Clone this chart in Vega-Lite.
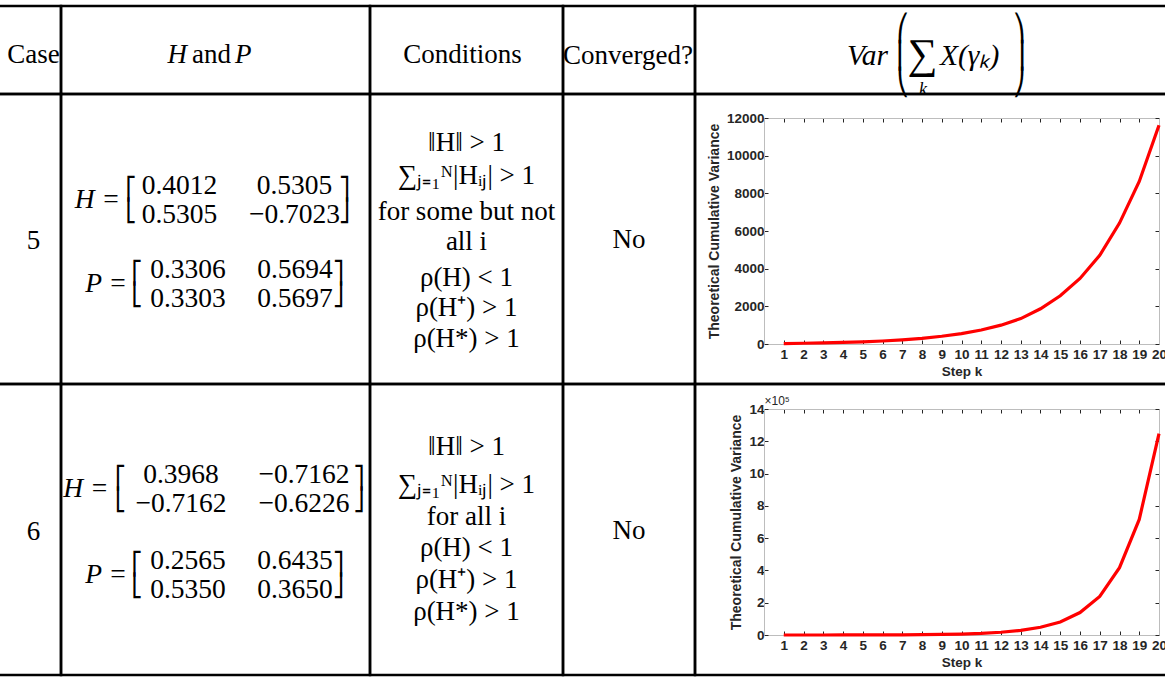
{
  "$schema": "https://vega.github.io/schema/vega-lite/v6.json",
  "background": "white",
  "padding": {"left": -4, "top": 4, "right": 0, "bottom": 0},
  "columns": 5,
  "align": "each",
  "bounds": "flush",
  "spacing": 0,
  "config": {
    "view": {"stroke": "black", "strokeWidth": 2.5},
    "concat": {"spacing": 0},
    "text": {"color": "black"},
    "axis": {
      "grid": false,
      "labelFont": "Liberation Sans", "labelFontWeight": "bold", "labelFontSize": 13.5, "labelColor": "#262626",
      "titleFont": "Liberation Sans", "titleFontWeight": "bold", "titleFontSize": 13.5, "titleColor": "#262626",
      "domainColor": "#bdbdbd", "domainWidth": 1,
      "tickColor": "#262626", "tickWidth": 1, "tickSize": -4,
      "labelFlush": false, "labelOverlap": false
    }
  },
  "datasets": {
    "cases": [
      {"case": "5", "conv": "No"},
      {"case": "6", "conv": "No"}
    ],
    "hp5": [
      {"part": "H", "label": "H =", "c1": "0.4012\n0.5305", "c2": "0.5305\n−0.7023"},
      {"part": "P", "label": "P =", "c1": "0.3306\n0.3303", "c2": "0.5694\n0.5697"}
    ],
    "hp6": [
      {"part": "H", "label": "H =", "c1": "0.3968\n−0.7162", "c2": "−0.7162\n−0.6226"},
      {"part": "P", "label": "P =", "c1": "0.2565\n0.5350", "c2": "0.6435\n0.3650"}
    ],
    "cond5": [
      {"m1": "‖H‖ > 1\n∑ⱼ₌₁ᴺ|Hᵢⱼ| > 1", "w": "for some but not\nall i", "m2": "ρ(H) < 1\nρ(H⁺) > 1\nρ(H*) > 1"}
    ],
    "cond6": [
      {"m1": "‖H‖ > 1\n∑ⱼ₌₁ᴺ|Hᵢⱼ| > 1", "w": "for all i", "m2": "ρ(H) < 1\nρ(H⁺) > 1\nρ(H*) > 1"}
    ],
    "var5": [
      {"k": 1, "v": 20}, {"k": 2, "v": 40}, {"k": 3, "v": 60}, {"k": 4, "v": 85},
      {"k": 5, "v": 115}, {"k": 6, "v": 160}, {"k": 7, "v": 220}, {"k": 8, "v": 300},
      {"k": 9, "v": 410}, {"k": 10, "v": 555}, {"k": 11, "v": 745}, {"k": 12, "v": 1000},
      {"k": 13, "v": 1350}, {"k": 14, "v": 1870}, {"k": 15, "v": 2560}, {"k": 16, "v": 3480},
      {"k": 17, "v": 4710}, {"k": 18, "v": 6420}, {"k": 19, "v": 8630}, {"k": 20, "v": 11620}
    ],
    "var6": [
      {"k": 1, "v": 40}, {"k": 2, "v": 80}, {"k": 3, "v": 150}, {"k": 4, "v": 250},
      {"k": 5, "v": 400}, {"k": 6, "v": 700}, {"k": 7, "v": 1200}, {"k": 8, "v": 2000},
      {"k": 9, "v": 3500}, {"k": 10, "v": 6000}, {"k": 11, "v": 10000}, {"k": 12, "v": 17000},
      {"k": 13, "v": 29000}, {"k": 14, "v": 48000}, {"k": 15, "v": 81000}, {"k": 16, "v": 139000},
      {"k": 17, "v": 239000}, {"k": 18, "v": 417000}, {"k": 19, "v": 716000}, {"k": 20, "v": 1248000}
    ]
  },
  "concat": [
    {"width": 63, "height": 88, "data": {"values": [{}]},
     "encoding": {"y": {"datum": "c", "type": "nominal", "axis": null}},
     "mark": {"type": "text", "text": "Case", "font": "Liberation Serif", "fontSize": 27, "baseline": "alphabetic", "dx": 4, "dy": 13}},
    {"width": 309, "height": 88, "data": {"values": [{}]},
     "encoding": {"y": {"datum": "c", "type": "nominal", "axis": null}},
     "layer": [
       {"mark": {"type": "text", "text": "H", "font": "Liberation Serif", "fontSize": 27, "fontStyle": "italic", "align": "right", "baseline": "alphabetic", "dx": -28.5, "dy": 13}},
       {"mark": {"type": "text", "text": "and", "font": "Liberation Serif", "fontSize": 27, "baseline": "alphabetic", "dx": -4, "dy": 13}},
       {"mark": {"type": "text", "text": "P", "font": "Liberation Serif", "fontSize": 27, "fontStyle": "italic", "align": "left", "baseline": "alphabetic", "dx": 19.5, "dy": 13}}
     ]},
    {"width": 193, "height": 88, "data": {"values": [{}]},
     "encoding": {"y": {"datum": "c", "type": "nominal", "axis": null}},
     "mark": {"type": "text", "text": "Conditions", "font": "Liberation Serif", "fontSize": 27, "baseline": "alphabetic", "dx": -4, "dy": 13}},
    {"width": 132, "height": 88, "data": {"values": [{}]},
     "encoding": {"y": {"datum": "c", "type": "nominal", "axis": null}},
     "mark": {"type": "text", "text": "Converged?", "font": "Liberation Serif", "fontSize": 27, "baseline": "alphabetic", "dx": -1, "dy": 14}},
    {"width": 472, "height": 88, "data": {"values": [{}]},
     "encoding": {"y": {"datum": "c", "type": "nominal", "axis": null}},
     "layer": [
       {"mark": {"type": "text", "text": "Var", "font": "Liberation Serif", "fontSize": 29.5, "fontStyle": "italic", "align": "right", "baseline": "alphabetic", "dx": -43, "dy": 15}},
       {"mark": {"type": "text", "text": ["⎛", "⎜", "⎝"], "font": "DejaVu Sans", "fontSize": 26, "lineHeight": 27, "dx": -28, "dy": -21}},
       {"mark": {"type": "text", "text": "∑", "font": "Liberation Serif", "fontSize": 42, "dx": -8.5, "dy": 5}},
       {"mark": {"type": "text", "text": "k", "font": "Liberation Serif", "fontSize": 18, "fontStyle": "italic", "dx": -8, "dy": 40}},
       {"mark": {"type": "text", "text": "X(γₖ)", "font": "Liberation Serif", "fontSize": 29.5, "fontStyle": "italic", "align": "left", "baseline": "alphabetic", "dx": 9, "dy": 15}},
       {"mark": {"type": "text", "text": ["⎞", "⎟", "⎠"], "font": "DejaVu Sans", "fontSize": 26, "lineHeight": 27, "dx": 88, "dy": -21}}
     ]},

    {"width": 63, "height": 290, "data": {"name": "cases"},
     "transform": [{"filter": "datum.case === '5'"}],
     "encoding": {"y": {"field": "case", "type": "nominal", "axis": null}, "text": {"field": "case", "type": "nominal"}},
     "mark": {"type": "text", "font": "Liberation Serif", "fontSize": 27, "baseline": "alphabetic", "dx": 4, "dy": 10}},
    {"width": 309, "height": 290, "data": {"name": "hp5"},
     "encoding": {"y": {"field": "part", "type": "nominal", "scale": {"type": "point", "domain": ["H", "P"], "range": [106, 190], "padding": 0}, "axis": null}},
     "layer": [
       {"transform": [{"filter": "datum.part === 'H'"}], "mark": {"type": "text", "font": "Liberation Serif", "fontSize": 27.5, "fontStyle": "italic", "align": "right", "dx": -95.5}, "encoding": {"text": {"field": "label", "type": "nominal"}}},
       {"transform": [{"filter": "datum.part === 'H'"}], "mark": {"type": "text", "text": ["⎡", "⎣"], "font": "DejaVu Sans", "fontSize": 22, "lineHeight": 22, "dx": -84.5, "dy": -11}},
       {"transform": [{"filter": "datum.part === 'H'"}], "mark": {"type": "text", "font": "Liberation Serif", "fontSize": 27.5, "lineBreak": "\n", "lineHeight": 29, "dx": -36, "dy": -14.5}, "encoding": {"text": {"field": "c1", "type": "nominal"}}},
       {"transform": [{"filter": "datum.part === 'H'"}], "mark": {"type": "text", "font": "Liberation Serif", "fontSize": 27.5, "lineBreak": "\n", "lineHeight": 29, "dx": 79, "dy": -14.5}, "encoding": {"text": {"field": "c2", "type": "nominal"}}},
       {"transform": [{"filter": "datum.part === 'H'"}], "mark": {"type": "text", "text": ["⎤", "⎦"], "font": "DejaVu Sans", "fontSize": 22, "lineHeight": 22, "dx": 129, "dy": -11}},
       {"transform": [{"filter": "datum.part === 'P'"}], "mark": {"type": "text", "font": "Liberation Serif", "fontSize": 27.5, "fontStyle": "italic", "align": "right", "dx": -88.5}, "encoding": {"text": {"field": "label", "type": "nominal"}}},
       {"transform": [{"filter": "datum.part === 'P'"}], "mark": {"type": "text", "text": ["⎡", "⎣"], "font": "DejaVu Sans", "fontSize": 22, "lineHeight": 22, "dx": -78.5, "dy": -11}},
       {"transform": [{"filter": "datum.part === 'P'"}], "mark": {"type": "text", "font": "Liberation Serif", "fontSize": 27.5, "lineBreak": "\n", "lineHeight": 29, "dx": -27.5, "dy": -14.5}, "encoding": {"text": {"field": "c1", "type": "nominal"}}},
       {"transform": [{"filter": "datum.part === 'P'"}], "mark": {"type": "text", "font": "Liberation Serif", "fontSize": 27.5, "lineBreak": "\n", "lineHeight": 29, "dx": 79.5, "dy": -14.5}, "encoding": {"text": {"field": "c2", "type": "nominal"}}},
       {"transform": [{"filter": "datum.part === 'P'"}], "mark": {"type": "text", "text": ["⎤", "⎦"], "font": "DejaVu Sans", "fontSize": 22, "lineHeight": 22, "dx": 123, "dy": -11}}
     ]},
    {"width": 193, "height": 290, "data": {"name": "cond5"},
     "encoding": {"y": {"datum": "c", "type": "nominal", "axis": null}},
     "layer": [
       {"mark": {"type": "text", "font": "Liberation Serif", "fontSize": 27, "lineBreak": "\n", "lineHeight": 33, "dy": -96}, "encoding": {"text": {"field": "m1", "type": "nominal"}}},
       {"mark": {"type": "text", "font": "Liberation Serif", "fontSize": 27, "lineBreak": "\n", "lineHeight": 30, "dy": -27}, "encoding": {"text": {"field": "w", "type": "nominal"}}},
       {"mark": {"type": "text", "font": "Liberation Serif", "fontSize": 27, "lineBreak": "\n", "lineHeight": 30.5, "dy": 38.5}, "encoding": {"text": {"field": "m2", "type": "nominal"}}}
     ]},
    {"width": 132, "height": 290, "data": {"name": "cases"},
     "transform": [{"filter": "datum.case === '5'"}],
     "encoding": {"y": {"field": "case", "type": "nominal", "axis": null}, "text": {"field": "conv", "type": "nominal"}},
     "mark": {"type": "text", "font": "Liberation Serif", "fontSize": 27, "baseline": "alphabetic", "dy": 9}},
    {"width": 472, "height": 290, "data": {"name": "var5"},
     "layer": [
       {"mark": {"type": "line", "color": "#ff0000", "strokeWidth": 3.2},
        "encoding": {
          "x": {"field": "k", "type": "quantitative",
                "scale": {"domain": [0, 20], "range": [69, 464], "nice": false, "zero": false},
                "axis": {"orient": "bottom", "offset": -40, "values": [1,2,3,4,5,6,7,8,9,10,11,12,13,14,15,16,17,18,19,20], "title": "Step k", "labelPadding": 7, "titlePadding": 4}},
          "y": {"field": "v", "type": "quantitative",
                "scale": {"domain": [0, 12000], "range": [250, 24], "nice": false, "zero": false},
                "axis": {"orient": "left", "offset": -69, "values": [0,2000,4000,6000,8000,10000,12000], "format": "d", "title": "Theoretical Cumulative Variance", "titleFontSize": 14, "labelPadding": 4, "titlePadding": 5}}
        }},
       {"mark": {"type": "line", "opacity": 0},
        "encoding": {
          "x": {"field": "k", "type": "quantitative", "axis": {"orient": "top", "offset": -24, "values": [1,2,3,4,5,6,7,8,9,10,11,12,13,14,15,16,17,18,19,20], "labels": false, "title": null}},
          "y": {"field": "v", "type": "quantitative", "axis": {"orient": "right", "offset": -8, "values": [0,2000,4000,6000,8000,10000,12000], "labels": false, "title": null}}
        }}
     ],
     "resolve": {"axis": {"x": "independent", "y": "independent"}}},

    {"width": 63, "height": 291, "data": {"name": "cases"},
     "transform": [{"filter": "datum.case === '6'"}],
     "encoding": {"y": {"field": "case", "type": "nominal", "axis": null}, "text": {"field": "case", "type": "nominal"}},
     "mark": {"type": "text", "font": "Liberation Serif", "fontSize": 27, "baseline": "alphabetic", "dx": 4, "dy": 10}},
    {"width": 309, "height": 291, "data": {"name": "hp6"},
     "encoding": {"y": {"field": "part", "type": "nominal", "scale": {"type": "point", "domain": ["H", "P"], "range": [105, 191], "padding": 0}, "axis": null}},
     "layer": [
       {"transform": [{"filter": "datum.part === 'H'"}], "mark": {"type": "text", "font": "Liberation Serif", "fontSize": 27.5, "fontStyle": "italic", "align": "right", "dx": -107}, "encoding": {"text": {"field": "label", "type": "nominal"}}},
       {"transform": [{"filter": "datum.part === 'H'"}], "mark": {"type": "text", "text": ["⎡", "⎣"], "font": "DejaVu Sans", "fontSize": 22, "lineHeight": 22, "dx": -95, "dy": -11}},
       {"transform": [{"filter": "datum.part === 'H'"}], "mark": {"type": "text", "font": "Liberation Serif", "fontSize": 27.5, "lineBreak": "\n", "lineHeight": 29, "dx": -34.5, "dy": -14.5}, "encoding": {"text": {"field": "c1", "type": "nominal"}}},
       {"transform": [{"filter": "datum.part === 'H'"}], "mark": {"type": "text", "font": "Liberation Serif", "fontSize": 27.5, "lineBreak": "\n", "lineHeight": 29, "dx": 88.5, "dy": -14.5}, "encoding": {"text": {"field": "c2", "type": "nominal"}}},
       {"transform": [{"filter": "datum.part === 'H'"}], "mark": {"type": "text", "text": ["⎤", "⎦"], "font": "DejaVu Sans", "fontSize": 22, "lineHeight": 22, "dx": 143.5, "dy": -11}},
       {"transform": [{"filter": "datum.part === 'P'"}], "mark": {"type": "text", "font": "Liberation Serif", "fontSize": 27.5, "fontStyle": "italic", "align": "right", "dx": -88.5}, "encoding": {"text": {"field": "label", "type": "nominal"}}},
       {"transform": [{"filter": "datum.part === 'P'"}], "mark": {"type": "text", "text": ["⎡", "⎣"], "font": "DejaVu Sans", "fontSize": 22, "lineHeight": 22, "dx": -78.5, "dy": -11}},
       {"transform": [{"filter": "datum.part === 'P'"}], "mark": {"type": "text", "font": "Liberation Serif", "fontSize": 27.5, "lineBreak": "\n", "lineHeight": 29, "dx": -27.5, "dy": -14.5}, "encoding": {"text": {"field": "c1", "type": "nominal"}}},
       {"transform": [{"filter": "datum.part === 'P'"}], "mark": {"type": "text", "font": "Liberation Serif", "fontSize": 27.5, "lineBreak": "\n", "lineHeight": 29, "dx": 79.5, "dy": -14.5}, "encoding": {"text": {"field": "c2", "type": "nominal"}}},
       {"transform": [{"filter": "datum.part === 'P'"}], "mark": {"type": "text", "text": ["⎤", "⎦"], "font": "DejaVu Sans", "fontSize": 22, "lineHeight": 22, "dx": 123, "dy": -11}}
     ]},
    {"width": 193, "height": 291, "data": {"name": "cond6"},
     "encoding": {"y": {"datum": "c", "type": "nominal", "axis": null}},
     "layer": [
       {"mark": {"type": "text", "font": "Liberation Serif", "fontSize": 27, "lineBreak": "\n", "lineHeight": 38, "dy": -82.5}, "encoding": {"text": {"field": "m1", "type": "nominal"}}},
       {"mark": {"type": "text", "font": "Liberation Serif", "fontSize": 27, "lineBreak": "\n", "lineHeight": 32, "dy": -12.5}, "encoding": {"text": {"field": "w", "type": "nominal"}}},
       {"mark": {"type": "text", "font": "Liberation Serif", "fontSize": 27, "lineBreak": "\n", "lineHeight": 32, "dy": 18.5}, "encoding": {"text": {"field": "m2", "type": "nominal"}}}
     ]},
    {"width": 132, "height": 291, "data": {"name": "cases"},
     "transform": [{"filter": "datum.case === '6'"}],
     "encoding": {"y": {"field": "case", "type": "nominal", "axis": null}, "text": {"field": "conv", "type": "nominal"}},
     "mark": {"type": "text", "font": "Liberation Serif", "fontSize": 27, "baseline": "alphabetic", "dy": 9}},
    {"width": 472, "height": 291, "data": {"name": "var6"},
     "layer": [
       {"mark": {"type": "line", "color": "#ff0000", "strokeWidth": 3.2},
        "encoding": {
          "x": {"field": "k", "type": "quantitative",
                "scale": {"domain": [0, 20], "range": [69, 464], "nice": false, "zero": false},
                "axis": {"orient": "bottom", "offset": -40, "values": [1,2,3,4,5,6,7,8,9,10,11,12,13,14,15,16,17,18,19,20], "title": "Step k", "labelPadding": 7, "titlePadding": 4}},
          "y": {"field": "v", "type": "quantitative",
                "scale": {"domain": [0, 1400000], "range": [251, 25], "nice": false, "zero": false},
                "axis": {"orient": "left", "offset": -69, "values": [0,200000,400000,600000,800000,1000000,1200000,1400000], "labelExpr": "format(datum.value / 100000, 'd')", "title": "Theoretical Cumulative Variance", "titleFontSize": 14, "labelPadding": 4, "titlePadding": 5}}
        }},
       {"mark": {"type": "line", "opacity": 0},
        "encoding": {
          "x": {"field": "k", "type": "quantitative", "axis": {"orient": "top", "offset": -25, "values": [1,2,3,4,5,6,7,8,9,10,11,12,13,14,15,16,17,18,19,20], "labels": false, "title": "×10⁵", "titleAnchor": "start", "titleAlign": "left", "titleBaseline": "alphabetic", "titlePadding": 4, "titleFontWeight": "normal", "titleFontSize": 12}},
          "y": {"field": "v", "type": "quantitative", "axis": {"orient": "right", "offset": -8, "values": [0,200000,400000,600000,800000,1000000,1200000,1400000], "labels": false, "title": null}}
        }}
     ],
     "resolve": {"axis": {"x": "independent", "y": "independent"}}}
  ]
}
